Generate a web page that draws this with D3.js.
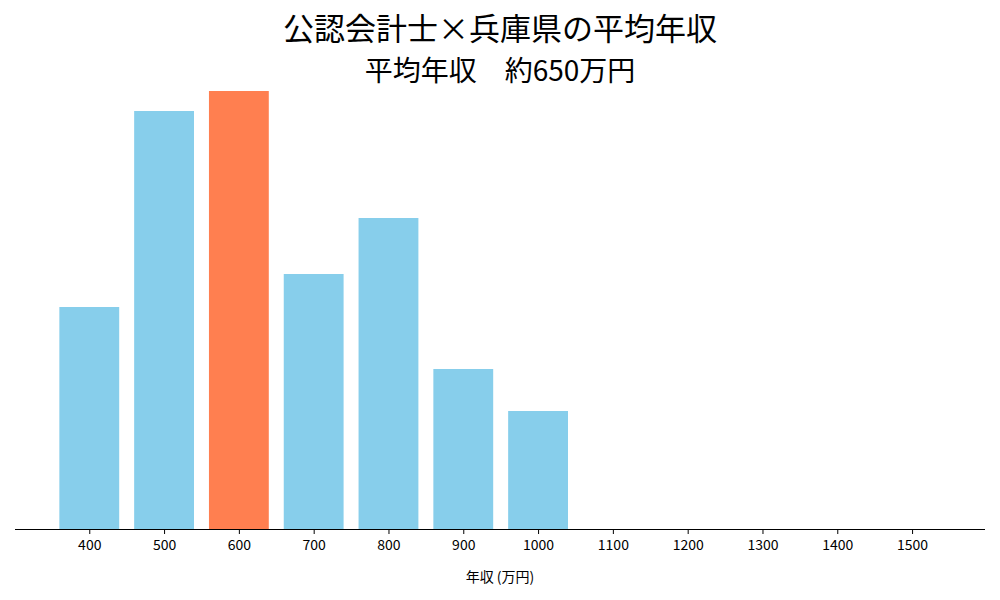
<!DOCTYPE html>
<html><head><meta charset="utf-8">
<script src="https://cdn.jsdelivr.net/npm/d3@7"></script>
<style>body{margin:0;background:#fff}text{font-family:"Noto Sans CJK JP","Noto Sans",sans-serif}</style>
</head><body><svg id="chart" width="1000" height="600"></svg>
<script>
const salaryBins = [400, 500, 600, 700, 800, 900, 1000, 1100, 1200, 1300, 1400, 1500]
const counts = [222, 418, 438, 255, 311, 160, 118, 0, 0, 0, 0, 0]
const highlightBin = 600

const svg = d3.select("#chart")
const x = d3.scaleLinear().domain([300.7, 1597.5]).range([15, 985])
const y = d3.scaleLinear().domain([0, 438]).range([529, 91])
const barW = x(440) - x(360)

svg.selectAll("rect.bar")
  .data(salaryBins.map((b, i) => ({b, v: counts[i]})).filter(d => d.v > 0))
  .join("rect")
    .attr("x", d => x(d.b) - barW / 2)
    .attr("y", d => y(d.v))
    .attr("width", barW)
    .attr("height", d => y(0) - y(d.v))
    .attr("fill", d => d.b === highlightBin ? "#ff7f50" : "#87ceeb")

// x axis
const ax = svg.append("g")
  .attr("transform", `translate(0, ${y(0)})`)
  .call(d3.axisBottom(x).tickValues(salaryBins).tickSize(5).tickPadding(6).tickFormat(d3.format("d")))
ax.select(".domain").attr("d", "M15,0.5H985")
ax.selectAll("text").style("font-size", "14px").attr("fill", "#000")

svg.append("text").attr("x", 500).attr("y", 582).attr("text-anchor", "middle")
  .style("font-size", "14px").text("年収 (万円)")

svg.append("text").attr("x", 500).attr("y", 40).attr("text-anchor", "middle")
  .style("font-size", "31px").text("公認会計士×兵庫県の平均年収")
svg.append("text").attr("x", 500).attr("y", 81).attr("text-anchor", "middle")
  .style("font-size", "28px").text("平均年収　約650万円")
</script></body></html>
